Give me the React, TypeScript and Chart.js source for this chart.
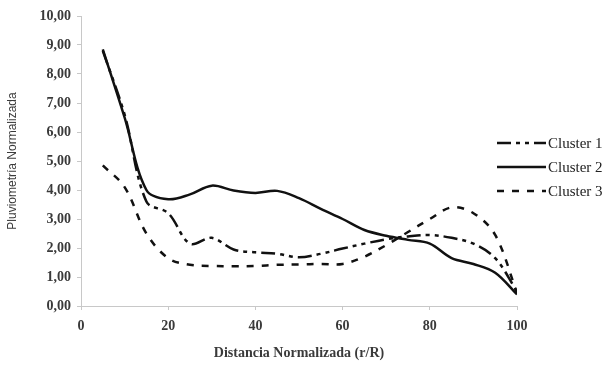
import React, { useEffect, useRef } from "react";
import { Chart, registerables } from "chart.js";

Chart.register(...registerables);

const distance = [5, 10, 15, 20, 25, 30, 35, 40, 45, 50, 55, 60, 65, 70, 75, 80, 85, 90, 95, 100];
const cluster1 = [8.8, 6.6, 3.6, 3.2, 2.15, 2.35, 1.95, 1.85, 1.8, 1.68, 1.8, 1.98, 2.15, 2.3, 2.4, 2.45, 2.35, 2.15, 1.65, 0.5];
const cluster2 = [8.85, 6.5, 4.0, 3.68, 3.85, 4.15, 3.98, 3.9, 3.97, 3.72, 3.35, 3.0, 2.62, 2.42, 2.28, 2.15, 1.65, 1.45, 1.15, 0.4];
const cluster3 = [4.85, 4.1, 2.5, 1.65, 1.42, 1.38, 1.37, 1.38, 1.42, 1.43, 1.45, 1.45, 1.7, 2.1, 2.55, 3.0, 3.4, 3.2, 2.45, 0.45];
const seriesNames = ["Cluster 1", "Cluster 2", "Cluster 3"];
const yTicks = [0, 1, 2, 3, 4, 5, 6, 7, 8, 9, 10];
const xTicks = [0, 20, 40, 60, 80, 100];

const dashes: number[][] = [[14, 5, 4, 5, 4, 5], [], [7, 8]];

const legendPlugin = {
  id: "customLegend",
  afterDraw(chart: any) {
    const ctx = chart.ctx;
    const right = chart.chartArea.right;
    const x0 = right - 20;
    const x1 = right + 29;
    const rowY = [143, 167, 191];
    ctx.save();
    chart.data.datasets.forEach((ds: any, i: number) => {
      const y = rowY[i];
      ctx.beginPath();
      ctx.setLineDash(ds.borderDash || []);
      ctx.lineWidth = 2.5;
      ctx.strokeStyle = "#111";
      ctx.moveTo(x0, y);
      ctx.lineTo(x1, y);
      ctx.stroke();
      ctx.setLineDash([]);
      ctx.fillStyle = "#222";
      ctx.font = "15px 'Liberation Serif'";
      ctx.textBaseline = "middle";
      ctx.textAlign = "left";
      ctx.fillText(ds.label, x1 + 2, y + 1);
    });
    ctx.restore();
  },
};

export default function App() {
  const ref = useRef<HTMLCanvasElement | null>(null);
  useEffect(() => {
    document.body.style.margin = "0";
    if (!ref.current) return;
    const mk = (vals: number[]) => distance.map((d, i) => ({ x: d, y: vals[i] }));
    const all = [cluster1, cluster2, cluster3];
    const chart = new Chart(ref.current, {
      type: "line",
      data: {
        datasets: all.map((vals, i) => ({
          label: seriesNames[i],
          data: mk(vals),
          borderColor: "#111",
          borderWidth: 2.5,
          borderDash: dashes[i],
          pointRadius: 0,
          tension: 0.35,
          fill: false,
        })),
      },
      options: {
        animation: false,
        responsive: false,
        maintainAspectRatio: false,
        layout: { padding: { left: 0, right: 86, top: 16, bottom: 0 } },
        plugins: { legend: { display: false }, tooltip: { enabled: false } },
        scales: {
          x: {
            type: "linear",
            min: 0,
            max: 100,
            afterBuildTicks: (s: any) => {
              s.ticks = xTicks.map((v) => ({ value: v }));
            },
            afterFit: (s: any) => {
              s.height = 59;
            },
            grid: { drawOnChartArea: false, drawTicks: true, tickLength: 4, color: "#c8c8c8" },
            border: { color: "#c8c8c8", width: 1 },
            ticks: {
              color: "#3a3a3a",
              padding: 8,
              font: { family: "'Liberation Serif'", size: 14, weight: "bold" },
              callback: (v: any) => String(v),
            },
            title: {
              display: true,
              text: "Distancia Normalizada (r/R)",
              color: "#3a3a3a",
              font: { family: "'Liberation Serif'", size: 14, weight: "bold" },
              padding: { top: 0, bottom: 3 },
            },
          },
          y: {
            min: 0,
            max: 10,
            afterBuildTicks: (s: any) => {
              s.ticks = yTicks.map((v) => ({ value: v }));
            },
            afterFit: (s: any) => {
              s.width = 81;
            },
            grid: { drawOnChartArea: false, drawTicks: true, tickLength: 4, color: "#c8c8c8" },
            border: { color: "#c8c8c8", width: 1 },
            ticks: {
              color: "#3a3a3a",
              padding: 6,
              font: { family: "'Liberation Serif'", size: 14, weight: "bold" },
              callback: (v: any) => Number(v).toFixed(2).replace(".", ","),
            },
            title: {
              display: true,
              text: "Pluviometría Normalizada",
              color: "#3a3a3a",
              font: { family: "'Liberation Sans'", size: 12 },
              padding: { top: 5, bottom: 0 },
            },
          },
        },
      },
      plugins: [legendPlugin],
    });
    return () => chart.destroy();
  }, []);
  return (
    <div style={{ width: 603, height: 365 }}>
      <canvas ref={ref} width={603} height={365} style={{ display: "block" }} />
    </div>
  );
}
